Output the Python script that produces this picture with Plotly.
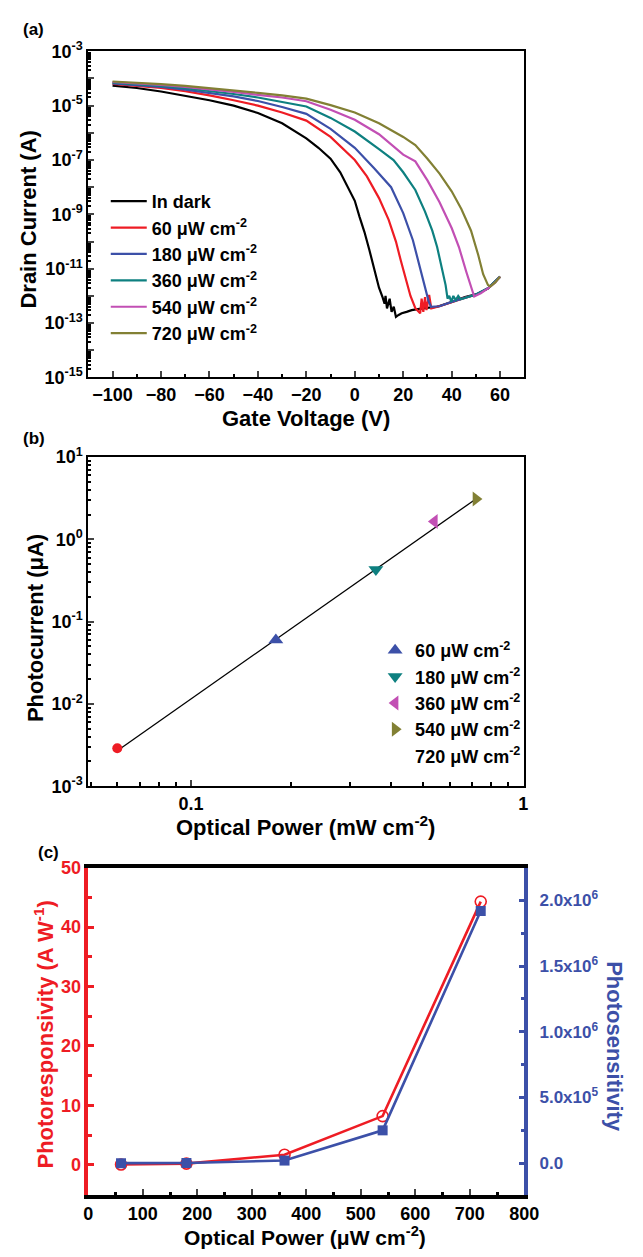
import plotly.graph_objects as go

# ---------------- (a) transfer curves: gate voltage (V) vs drain current (A)
dark_vg = [-100, -90, -80, -70, -60, -50, -40, -30, -20, -15, -10, -6, -3, 0, 2, 4, 6, 8, 10,
           11.5, 12.3, 12.7, 13.3, 14.4, 15.2, 16.1, 17.0, 18.1, 19.4, 21.4, 23.5, 28, 34, 40, 45.5, 50.8, 55, 60]
dark_id = [5.50e-5, 4.47e-5, 3.31e-5, 2.34e-5, 1.58e-5, 1.0e-5, 5.37e-6, 2.24e-6, 6.31e-7, 2.82e-7, 1.12e-7,
           3.55e-8, 1.12e-8, 3.16e-9, 7.94e-10, 2.24e-10, 5.01e-11, 1.0e-11, 2.0e-12,
           8.9e-13, 5.2e-13, 1.0e-12, 3.5e-13, 7.9e-13, 2.6e-13, 4.0e-13, 1.7e-13, 2.0e-13, 2.3e-13, 2.6e-13,
           3.0e-13, 3.5e-13, 4.0e-13, 6.0e-13, 9.1e-13, 1.2e-12, 1.9e-12, 5.1e-12]

p60_vg = [-100, -90, -80, -70, -60, -50, -40, -30, -20, -10, 0, 5, 10, 14, 17, 19, 21, 23, 25, 27,
          27.6, 28.3, 29.0, 29.6, 30.7, 31.6, 35, 40, 45, 50, 55, 60]
p60_id = [6.31e-5, 5.37e-5, 4.47e-5, 3.39e-5, 2.40e-5, 1.58e-5, 1.0e-5, 5.62e-6, 2.82e-6, 7.08e-7, 1.0e-7,
          2.51e-8, 3.98e-9, 6.31e-10, 1.0e-10, 2.0e-11, 4.47e-12, 1.0e-12, 3.55e-13, 2.29e-13,
          7.9e-13, 2.6e-13, 9.1e-13, 3.0e-13, 1.1e-12, 3.5e-13, 4.2e-13, 6.0e-13, 8.3e-13, 1.1e-12, 1.9e-12, 5.1e-12]

p180_vg = [-100, -90, -80, -70, -60, -50, -40, -30, -20, -10, 0, 8, 15, 20, 24, 27, 29, 30.5, 31.5, 35, 40, 45,
           50, 55, 60]
p180_id = [6.61e-5, 5.75e-5, 4.90e-5, 3.89e-5, 2.95e-5, 2.19e-5, 1.48e-5, 8.91e-6, 5.01e-6, 1.41e-6, 2.82e-7,
           5.01e-8, 1.0e-8, 1.12e-9, 1.12e-10, 1.0e-11, 1.78e-12, 6.31e-13, 3.98e-13, 4.17e-13, 6.03e-13, 8.32e-13,
           1.12e-12, 1.91e-12, 5.13e-12]

p360_vg = [-100, -90, -80, -70, -60, -50, -40, -30, -20, -10, 0, 10, 16, 20, 25, 29, 32, 34, 36, 37.5, 38.3,
           39.0, 39.9, 40.7, 41.7, 42.7, 43.7, 47, 50, 55, 60]
p360_id = [7.08e-5, 6.31e-5, 5.37e-5, 4.37e-5, 3.47e-5, 2.69e-5, 2.0e-5, 1.38e-5, 9.33e-6, 3.55e-6, 1.12e-6,
           2.51e-7, 1.0e-7, 3.55e-8, 7.94e-9, 1.26e-9, 2.51e-10, 6.31e-11, 1.12e-11, 2.51e-12, 7.94e-13,
           1.0e-12, 6.03e-13, 1.0e-12, 7.08e-13, 1.0e-12, 7.59e-13, 9.55e-13, 1.12e-12, 1.91e-12, 5.13e-12]

p540_vg = [-100, -90, -80, -70, -60, -50, -40, -30, -20, -10, 0, 10, 20, 25, 30, 35, 40, 43, 46, 48, 49.3, 52,
           55, 58, 60]
p540_id = [7.41e-5, 6.61e-5, 5.75e-5, 4.90e-5, 4.07e-5, 3.24e-5, 2.51e-5, 2.0e-5, 1.45e-5, 7.08e-6, 3.02e-6,
           8.91e-7, 1.58e-7, 8.91e-8, 1.78e-8, 2.82e-9, 3.16e-10, 6.31e-11, 7.94e-12, 2.0e-12, 9.55e-13,
           1.26e-12, 1.91e-12, 3.16e-12, 5.13e-12]

p720_vg = [-100, -90, -80, -70, -60, -50, -40, -30, -20, -10, 0, 10, 20, 25, 30, 35, 40, 44, 48, 51, 53, 55,
           56, 58, 60]
p720_id = [7.76e-5, 7.08e-5, 6.17e-5, 5.37e-5, 4.47e-5, 3.63e-5, 2.95e-5, 2.40e-5, 1.82e-5, 1.05e-5, 5.62e-6,
           2.24e-6, 7.08e-7, 3.55e-7, 1.12e-7, 3.16e-8, 7.08e-9, 1.58e-9, 2.51e-10, 3.16e-11, 6.31e-12,
           2.51e-12, 2.24e-12, 3.16e-12, 5.13e-12]

a_names = ["In dark", "60 \u03bcW cm<sup>-2</sup>", "180 \u03bcW cm<sup>-2</sup>", "360 \u03bcW cm<sup>-2</sup>",
           "540 \u03bcW cm<sup>-2</sup>", "720 \u03bcW cm<sup>-2</sup>"]
a_vg = [dark_vg, p60_vg, p180_vg, p360_vg, p540_vg, p720_vg]
a_id = [dark_id, p60_id, p180_id, p360_id, p540_id, p720_id]
a_colors = ["#000000", "#EE1C24", "#3C50A8", "#0E8080", "#C24FB4", "#828034"]

# ---------------- (b) photocurrent vs optical power
b_power = [0.06, 0.18, 0.36, 0.54, 0.72]          # mW cm^-2
b_current = [0.0029, 0.060, 0.43, 1.65, 3.1]      # uA
b_fit_power = [0.06, 0.72]
b_fit_current = [0.0027, 3.1]
b_names = ["60 \u03bcW cm<sup>-2</sup>", "180 \u03bcW cm<sup>-2</sup>", "360 \u03bcW cm<sup>-2</sup>",
           "540 \u03bcW cm<sup>-2</sup>", "720 \u03bcW cm<sup>-2</sup>"]

# ---------------- (c) responsivity and photosensitivity vs optical power
c_power = [60, 180, 360, 540, 720]                 # uW cm^-2
c_responsivity = [0.05, 0.2, 1.7, 8.2, 44.3]       # A W^-1
c_sensitivity = [5.0e2, 2.0e3, 2.0e4, 2.5e5, 1.92e6]

RED = "#EE1C24"
BLUE = "#3C50A8"
FONT = "Liberation Sans, Arial, sans-serif"
W, H = 643, 1257


def fx(px):
    return px / W


def fy(py):
    return 1 - py / H


fig = go.Figure()

# (a)
for name, vg, idr, col in zip(a_names, a_vg, a_id, a_colors):
    fig.add_trace(go.Scatter(x=vg, y=idr, mode="lines", name=name, line=dict(color=col, width=2.2),
                             xaxis="x", yaxis="y", legend="legend", legendgroup=name))

# (b)
fig.add_trace(go.Scatter(x=b_fit_power, y=b_fit_current, mode="lines", line=dict(color="black", width=1.3),
                         xaxis="x2", yaxis="y2", showlegend=False))
fig.add_trace(go.Scatter(x=[b_power[0]], y=[b_current[0]], mode="markers",
                         marker=dict(symbol="circle", size=10, color=RED), xaxis="x2", yaxis="y2",
                         showlegend=False))
b_symbols = ["triangle-up", "triangle-down", "triangle-left", "triangle-right"]
b_cols = ["#3C50A8", "#0E8080", "#C24FB4", "#828034"]
for i in range(4):
    fig.add_trace(go.Scatter(x=[b_power[i + 1]], y=[b_current[i + 1]], mode="markers", name=b_names[i],
                             marker=dict(symbol=b_symbols[i], size=13, color=b_cols[i]),
                             xaxis="x2", yaxis="y2", legend="legend2", legendgroup="b%d" % i))
fig.add_trace(go.Scatter(x=[None], y=[None], mode="markers", name=b_names[4],
                         marker=dict(size=12, color="rgba(0,0,0,0)"),
                         xaxis="x2", yaxis="y2", legend="legend2", legendgroup="b4"))

# (c)
fig.add_trace(go.Scatter(x=c_power, y=c_responsivity, mode="lines+markers",
                         line=dict(color=RED, width=2.6),
                         marker=dict(symbol="circle-open", size=11, color=RED, line=dict(width=1.6)),
                         xaxis="x3", yaxis="y3", showlegend=False))
fig.add_trace(go.Scatter(x=c_power, y=c_sensitivity, mode="lines+markers",
                         line=dict(color=BLUE, width=2.6),
                         marker=dict(symbol="square", size=10, color=BLUE),
                         xaxis="x3", yaxis="y4", showlegend=False))

xdom = [fx(86), fx(536)]
tickfont = dict(family=FONT, size=18, color="black", weight="bold")

decades_a = [10.0 ** e for e in range(-15, -2)]
decade_text_a = ["10<sup>%d</sup>" % e if e % 2 == 1 else "" for e in range(-15, -2)]
minor_a = [k * 10.0 ** e for e in range(-15, -3) for k in range(2, 10)]

decades_b = [10.0 ** e for e in range(-3, 2)]
decade_text_b = ["10<sup>%d</sup>" % e for e in range(-3, 2)]
minor_b = [k * 10.0 ** e for e in range(-3, 1) for k in range(2, 10)]
minor_bx = [0.05, 0.06, 0.07, 0.08, 0.09, 0.2, 0.3, 0.4, 0.5, 0.6, 0.7, 0.8, 0.9]

common = dict(showgrid=False, zeroline=False, showline=True, ticks="inside", tickwidth=2, ticklen=6,
              tickfont=tickfont)

fig.update_layout(
    width=W, height=H, margin=dict(l=0, r=0, t=0, b=0),
    paper_bgcolor="white", plot_bgcolor="white",
    font=dict(family=FONT, color="black"),
    xaxis=dict(domain=xdom, anchor="y", range=[-110, 70], tickmode="array",
               tickvals=[-100, -80, -60, -40, -20, 0, 20, 40, 60],
               linecolor="black", linewidth=2, mirror=True,
               minor=dict(tickmode="array", tickvals=[-90, -70, -50, -30, -10, 10, 30, 50],
                          ticks="inside", ticklen=3, tickwidth=2, tickcolor="black"), **common),
    yaxis=dict(domain=[fy(372), fy(40)], anchor="x", type="log", range=[-15, -3], tickmode="array",
               tickvals=decades_a, ticktext=decade_text_a, linecolor="black", linewidth=2, mirror=True,
               minor=dict(tickmode="array", tickvals=minor_a, ticks="inside", ticklen=3, tickwidth=1.5,
                          tickcolor="black"), **common),
    xaxis2=dict(domain=xdom, anchor="y2", type="log", range=[-1.309, 0.003], tickmode="array",
                tickvals=[0.1, 1], ticktext=["0.1", "1"], linecolor="black", linewidth=2, mirror=True,
                minor=dict(tickmode="array", tickvals=minor_bx, ticks="inside", ticklen=4, tickwidth=1.5,
                           tickcolor="black"), **common),
    yaxis2=dict(domain=[fy(788), fy(453)], anchor="x2", type="log", range=[-3, 1], tickmode="array",
                tickvals=decades_b, ticktext=decade_text_b, linecolor="black", linewidth=2, mirror=True,
                minor=dict(tickmode="array", tickvals=minor_b, ticks="inside", ticklen=3, tickwidth=1.5,
                           tickcolor="black"), **common),
    xaxis3=dict(domain=xdom, anchor="y3", range=[0, 800], tickmode="array",
                tickvals=[0, 100, 200, 300, 400, 500, 600, 700, 800],
                linecolor="black", linewidth=3.5, mirror=True,
                minor=dict(tickmode="array", tickvals=[50, 150, 250, 350, 450, 550, 650, 750],
                           ticks="inside", ticklen=3, tickwidth=2.5, tickcolor="black"), **common),
    yaxis3=dict(domain=[fy(1204), fy(871)], anchor="x3", range=[-5.07, 50], tickmode="array",
                tickvals=[0, 10, 20, 30, 40, 50], linecolor=RED, linewidth=3.5, tickcolor=RED,
                minor=dict(tickmode="array", tickvals=[5, 15, 25, 35, 45], ticks="inside", ticklen=4,
                           tickwidth=2.5, tickcolor=RED),
                showgrid=False, zeroline=False, showline=True, ticks="inside", tickwidth=2.5, ticklen=6,
                tickfont=dict(family=FONT, size=18, color=RED, weight="bold")),
    yaxis4=dict(overlaying="y3", anchor="x3", side="right", range=[-2.416e5, 2.249e6], tickmode="array",
                tickvals=[0, 5e5, 1e6, 1.5e6, 2e6],
                ticktext=["0.0", "5.0x10<sup>5</sup>", "1.0x10<sup>6</sup>", "1.5x10<sup>6</sup>",
                          "2.0x10<sup>6</sup>"],
                linecolor=BLUE, linewidth=3.5, tickcolor=BLUE, ticklabelstandoff=8,
                minor=dict(tickmode="array", tickvals=[2.5e5, 7.5e5, 1.25e6, 1.75e6], ticks="inside",
                           ticklen=4, tickwidth=2.5, tickcolor=BLUE),
                showgrid=False, zeroline=False, showline=True, ticks="inside", tickwidth=2.5, ticklen=6,
                tickfont=dict(family=FONT, size=17, color=BLUE, weight="bold")),
    legend=dict(x=fx(104), y=fy(174), xanchor="left", yanchor="top", bgcolor="rgba(0,0,0,0)",
                font=dict(family=FONT, size=18, color="black", weight="bold"), tracegroupgap=4,
                traceorder="normal", itemwidth=36),
    legend2=dict(x=fx(382), y=fy(631), xanchor="left", yanchor="top", bgcolor="rgba(0,0,0,0)",
                 font=dict(family=FONT, size=18, color="black", weight="bold"), tracegroupgap=5,
                 traceorder="normal"),
)

title_font = dict(family=FONT, size=22, color="black", weight="bold")
ann = [
    dict(text="(a)", x=fx(17), y=fy(18), xanchor="left", yanchor="middle",
         font=dict(family=FONT, size=17, color="black", weight="bold")),
    dict(text="(b)", x=fx(16), y=fy(434), xanchor="left", yanchor="middle",
         font=dict(family=FONT, size=17, color="black", weight="bold")),
    dict(text="(c)", x=fx(32), y=fy(855), xanchor="left", yanchor="middle",
         font=dict(family=FONT, size=17, color="black", weight="bold")),
    dict(text="Gate Voltage (V)", x=fx(311), y=fy(414), xanchor="center", yanchor="middle", font=title_font),
    dict(text="Drain Current (A)", x=fx(24), y=fy(211), xanchor="center", yanchor="middle", textangle=-90,
         font=title_font),
    dict(text="Optical Power (mW cm<sup>-2</sup>)", x=fx(310), y=fy(828), xanchor="center", yanchor="middle",
         font=title_font),
    dict(text="Photocurrent (\u03bcA)", x=fx(31), y=fy(627), xanchor="center", yanchor="middle", textangle=-90,
         font=title_font),
    dict(text="Optical Power (\u03bcW cm<sup>-2</sup>)", x=fx(310), y=fy(1246), xanchor="center",
         yanchor="middle", font=dict(family=FONT, size=21, color="black", weight="bold")),
    dict(text="Photoresponsivity (A W<sup>-1</sup>)", x=fx(40), y=fy(1041), xanchor="center", yanchor="middle",
         textangle=-90, font=dict(family=FONT, size=22, color=RED, weight="bold")),
    dict(text="Photosensitivity", x=fx(629), y=fy(1053), xanchor="center", yanchor="middle", textangle=90,
         font=dict(family=FONT, size=22, color=BLUE, weight="bold")),
]
for a in ann:
    a.update(xref="paper", yref="paper", showarrow=False)
fig.update_layout(annotations=ann)

fig.write_html("out.html")
